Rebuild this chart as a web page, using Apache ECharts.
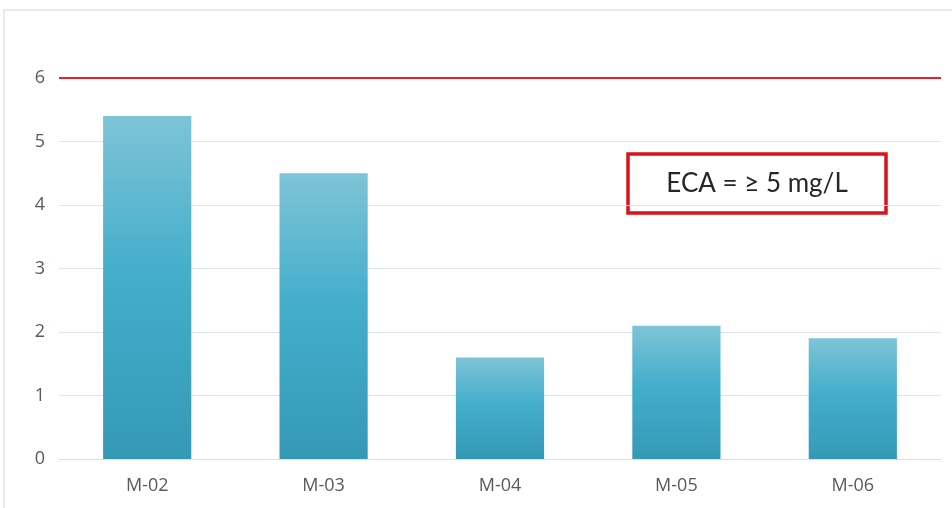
<!DOCTYPE html>
<html>
<head>
<meta charset="utf-8">
<script src="https://cdn.jsdelivr.net/npm/echarts@6/dist/echarts.min.js"></script>
<style>
  html, body { margin: 0; padding: 0; background: #ffffff; }
  #chart { width: 952px; height: 508px; }
</style>
</head>
<body>
<div id="chart"></div>
<script>
// Sampling points and measured concentrations (mg/L)
const categories = ['M-02', 'M-03', 'M-04', 'M-05', 'M-06'];
const values = [5.4, 4.5, 1.6, 2.1, 1.9];
const yTicks = { min: 0, max: 6, interval: 1 };
const limitValue = 6;
const noteText = 'ECA = \u2265 5 mg/L';

const chart = echarts.init(document.getElementById('chart'), null, { renderer: 'canvas' });

const labelFont = '"Open Sans", Lato, sans-serif';

chart.setOption({
  backgroundColor: '#ffffff',
  animation: false,
  grid: { left: 59, right: 11, top: 78, bottom: 49 },
  xAxis: {
    type: 'category',
    data: categories,
    axisLine: { show: true, lineStyle: { color: '#d9e1ea', width: 1 } },
    axisTick: { show: false },
    axisLabel: { color: '#5a5a5a', fontSize: 18, fontFamily: labelFont, margin: 18 }
  },
  yAxis: {
    type: 'value',
    min: yTicks.min,
    max: yTicks.max,
    interval: yTicks.interval,
    axisLine: { show: false },
    axisTick: { show: false },
    splitLine: { lineStyle: { color: '#dde5ee', width: 1 } },
    axisLabel: { color: '#5a5a5a', fontSize: 18, fontFamily: labelFont, margin: 14 }
  },
  series: [{
    type: 'bar',
    data: values,
    barWidth: '50%',
    itemStyle: {
      color: new echarts.graphic.LinearGradient(0, 0, 0, 1, [
        { offset: 0, color: '#7ec4d7' },
        { offset: 0.45, color: '#44aecb' },
        { offset: 1, color: '#3599b5' }
      ])
    },
    markLine: {
      silent: true,
      symbol: 'none',
      label: { show: false },
      lineStyle: { color: '#e0242a', width: 2, type: 'solid' },
      data: [{ yAxis: limitValue }]
    }
  }],
  graphic: [
    {
      type: 'rect',
      silent: true,
      shape: { x: 4, y: 10, width: 960, height: 520 },
      style: { fill: 'none', stroke: '#e2e2ea', lineWidth: 1.5 }
    },
    {
      type: 'rect',
      silent: true,
      shape: { x: 628, y: 154, width: 258, height: 59 },
      style: { fill: '#ffffff', stroke: '#d9121b', lineWidth: 3.5 }
    },
    {
      type: 'text',
      silent: true,
      x: 757, y: 184,
      style: {
        text: noteText,
        fill: '#262626',
        font: '26px Lato, "Open Sans", sans-serif',
        align: 'center',
        verticalAlign: 'middle'
      }
    }
  ]
});
</script>
</body>
</html>
